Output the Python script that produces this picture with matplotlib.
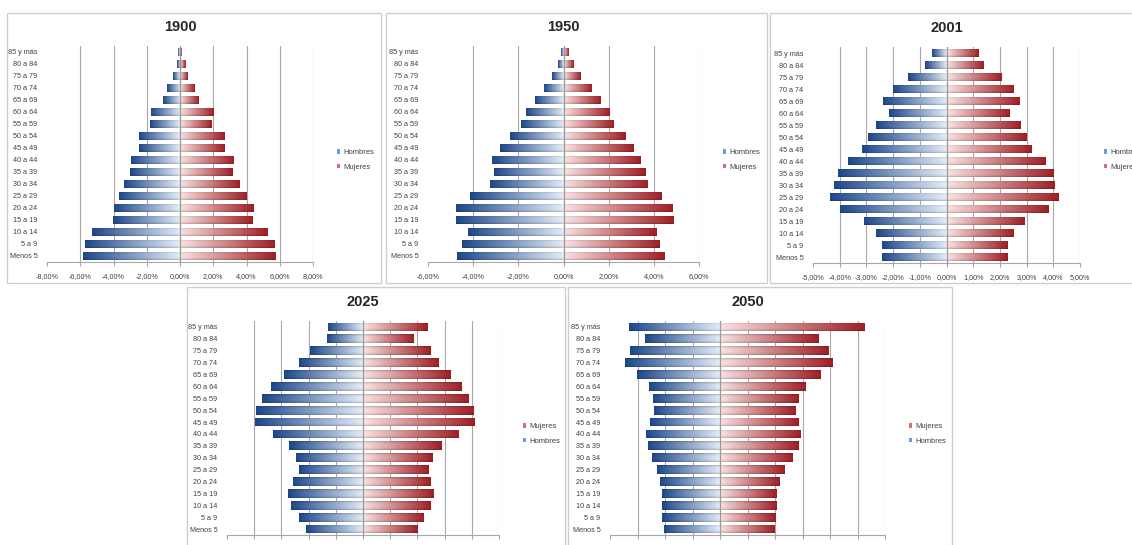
import matplotlib.pyplot as plt
import numpy as np
from matplotlib.patches import Rectangle, Patch
from matplotlib.ticker import FuncFormatter

plt.rcParams['font.family'] = ['Liberation Sans', 'DejaVu Sans']

grupos = ['Menos 5', '5 a 9', '10 a 14', '15 a 19', '20 a 24', '25 a 29',
          '30 a 34', '35 a 39', '40 a 44', '45 a 49', '50 a 54', '55 a 59',
          '60 a 64', '65 a 69', '70 a 74', '75 a 79', '80 a 84', '85 y más']

# porcentaje de la población total en cada grupo de edad
hombres_1900 = [5.86, 5.70, 5.30, 4.06, 3.94, 3.64, 3.34, 3.00, 2.94, 2.44, 2.46, 1.80, 1.76, 1.04, 0.80, 0.40, 0.20, 0.10]
mujeres_1900 = [5.76, 5.68, 5.24, 4.34, 4.44, 3.98, 3.60, 3.16, 3.24, 2.68, 2.70, 1.92, 2.00, 1.14, 0.86, 0.44, 0.32, 0.12]

hombres_1950 = [4.72, 4.50, 4.24, 4.76, 4.76, 4.16, 3.26, 3.09, 3.18, 2.79, 2.37, 1.88, 1.68, 1.24, 0.87, 0.50, 0.25, 0.10]
mujeres_1950 = [4.47, 4.22, 4.09, 4.87, 4.81, 4.32, 3.68, 3.59, 3.37, 3.06, 2.71, 2.18, 2.00, 1.62, 1.21, 0.75, 0.43, 0.21]

hombres_2001 = [2.43, 2.40, 2.65, 3.10, 3.99, 4.36, 4.20, 4.06, 3.69, 3.18, 2.95, 2.64, 2.16, 2.38, 2.01, 1.46, 0.80, 0.54]
mujeres_2001 = [2.28, 2.25, 2.50, 2.91, 3.79, 4.18, 4.04, 3.98, 3.69, 3.18, 2.98, 2.75, 2.34, 2.70, 2.50, 2.03, 1.35, 1.19]

hombres_2025 = [2.11, 2.37, 2.65, 2.76, 2.57, 2.37, 2.45, 2.71, 3.32, 3.98, 3.93, 3.70, 3.37, 2.90, 2.37, 1.96, 1.33, 1.28]
mujeres_2025 = [1.99, 2.22, 2.48, 2.60, 2.50, 2.41, 2.56, 2.90, 3.52, 4.09, 4.05, 3.87, 3.62, 3.23, 2.76, 2.48, 1.87, 2.38]

hombres_2050 = [2.02, 2.11, 2.11, 2.12, 2.17, 2.29, 2.47, 2.63, 2.69, 2.53, 2.39, 2.44, 2.59, 3.02, 3.45, 3.26, 2.73, 3.30]
mujeres_2050 = [1.99, 2.02, 2.05, 2.05, 2.17, 2.35, 2.62, 2.85, 2.93, 2.85, 2.75, 2.85, 3.10, 3.64, 4.08, 3.94, 3.58, 5.27]

W, H = 1132, 545
fig = plt.figure(figsize=(W / 100, H / 100), dpi=100)
fig.patch.set_facecolor('white')

azul_osc = np.array([30, 72, 140]) / 255
azul_cla = np.array([228, 237, 248]) / 255
rojo_osc = np.array([160, 32, 38]) / 255
rojo_cla = np.array([250, 226, 226]) / 255


def degradado(oscuro, claro, hacia_dentro):
    # color horizontal de oscuro (extremo) a claro (centro) con leve sombra vertical
    t = np.linspace(0, 1, 80)
    if not hacia_dentro:
        t = t[::-1]
    col = oscuro[None, :] * (1 - t[:, None]) + claro[None, :] * t[:, None]
    s = np.linspace(-1, 1, 20)
    sombra = 1 - 0.22 * np.abs(s) ** 4
    img = col[None, :, :] * sombra[:, None, None]
    return np.clip(img, 0, 1)


img_h = degradado(azul_osc, azul_cla, True)
img_m = degradado(rojo_osc, rojo_cla, False)


def marco(x0, y0, x1, y1):
    fig.patches.append(Rectangle((x0 / W, 1 - y1 / H), (x1 - x0) / W, (y1 - y0) / H,
                                 transform=fig.transFigure, fill=False,
                                 edgecolor='#cfcfcf', lw=1.0))


def piramide(titulo, hombres, mujeres, xmin, xmax, paso, px, leyenda_y, mujeres_arriba):
    x0, x1, ytop, ybot = px
    ax = fig.add_axes([x0 / W, 1 - ybot / H, (x1 - x0) / W, (ybot - ytop) / H])
    y = np.arange(len(grupos))
    hb = ax.barh(y, -np.array(hombres), height=0.74, color='white', edgecolor='none', zorder=3)
    mb = ax.barh(y, mujeres, height=0.74, color='white', edgecolor='none', zorder=3)
    for barras, img in ((hb, img_h), (mb, img_m)):
        for b in barras:
            bb = b.get_bbox()
            im = ax.imshow(img, extent=[min(bb.x0, bb.x1), max(bb.x0, bb.x1), bb.y0, bb.y1],
                           aspect='auto', zorder=3.5, interpolation='bilinear')
            im.set_clip_path(b)

    ticks = np.arange(xmin, xmax + paso / 2, paso)
    ax.set_xlim(xmin, xmax)
    ax.set_ylim(-0.5, len(grupos) - 0.5)
    ax.set_xticks(ticks)
    ax.xaxis.set_major_formatter(FuncFormatter(lambda v, p: f'{v:.2f}%'.replace('.', ',')))
    for t in ticks[1:]:
        ax.axvline(t, color='#a8a8a8', lw=0.8, zorder=0.5)
    ax.axvline(0, color='#9a9a9a', lw=0.9, zorder=4)
    ax.set_yticks(y)
    ax.set_yticklabels(grupos)
    ax.tick_params(axis='y', length=0, pad=7, labelsize=5.2, labelcolor='#404040')
    ax.tick_params(axis='x', length=3, color='#a8a8a8', pad=5, labelsize=5.2, labelcolor='#404040')
    for lado in ('top', 'right', 'left'):
        ax.spines[lado].set_visible(False)
    ax.spines['bottom'].set_color('#a8a8a8')
    ax.spines['bottom'].set_linewidth(0.8)
    ax.set_facecolor('white')

    fig.text((x0 + x1) / 2 / W, 1 - (ytop - 19) / H, titulo, ha='center', va='center',
             fontsize=10.5, fontweight='bold', color='#262626')

    h = Patch(facecolor=(0.45, 0.6, 0.82), edgecolor='none')
    m = Patch(facecolor=(0.86, 0.42, 0.42), edgecolor='none')
    handles, labels = [h, m], ['Hombres', 'Mujeres']
    if mujeres_arriba:
        handles, labels = [m, h], ['Mujeres', 'Hombres']
    ax.legend(handles, labels, loc='center left', frameon=False,
              bbox_to_anchor=((x1 + 20) / W, 1 - leyenda_y / H), bbox_transform=fig.transFigure,
              fontsize=5.5, handlelength=0.45, handleheight=0.45, handletextpad=0.4,
              labelspacing=1.0, labelcolor='#404040', borderpad=0)
    return ax


marco(7, 13, 381, 283)
marco(386, 13, 767, 283)
marco(770, 13, 1140, 283)
marco(187, 287, 565, 552)
marco(568, 287, 952, 552)

piramide('1900', hombres_1900, mujeres_1900, -8, 8, 2, (47, 313, 46, 262), 160, False)
piramide('1950', hombres_1950, mujeres_1950, -6, 6, 2, (428, 699, 46, 262), 160, False)
piramide('2001', hombres_2001, mujeres_2001, -5, 5, 1, (813, 1080, 47, 263), 160, False)
piramide('2025', hombres_2025, mujeres_2025, -5, 5, 1, (227, 499, 321, 535), 434, True)
piramide('2050', hombres_2050, mujeres_2050, -4, 6, 1, (610, 885, 321, 535), 434, True)

fig.savefig('out.png', dpi=100)
